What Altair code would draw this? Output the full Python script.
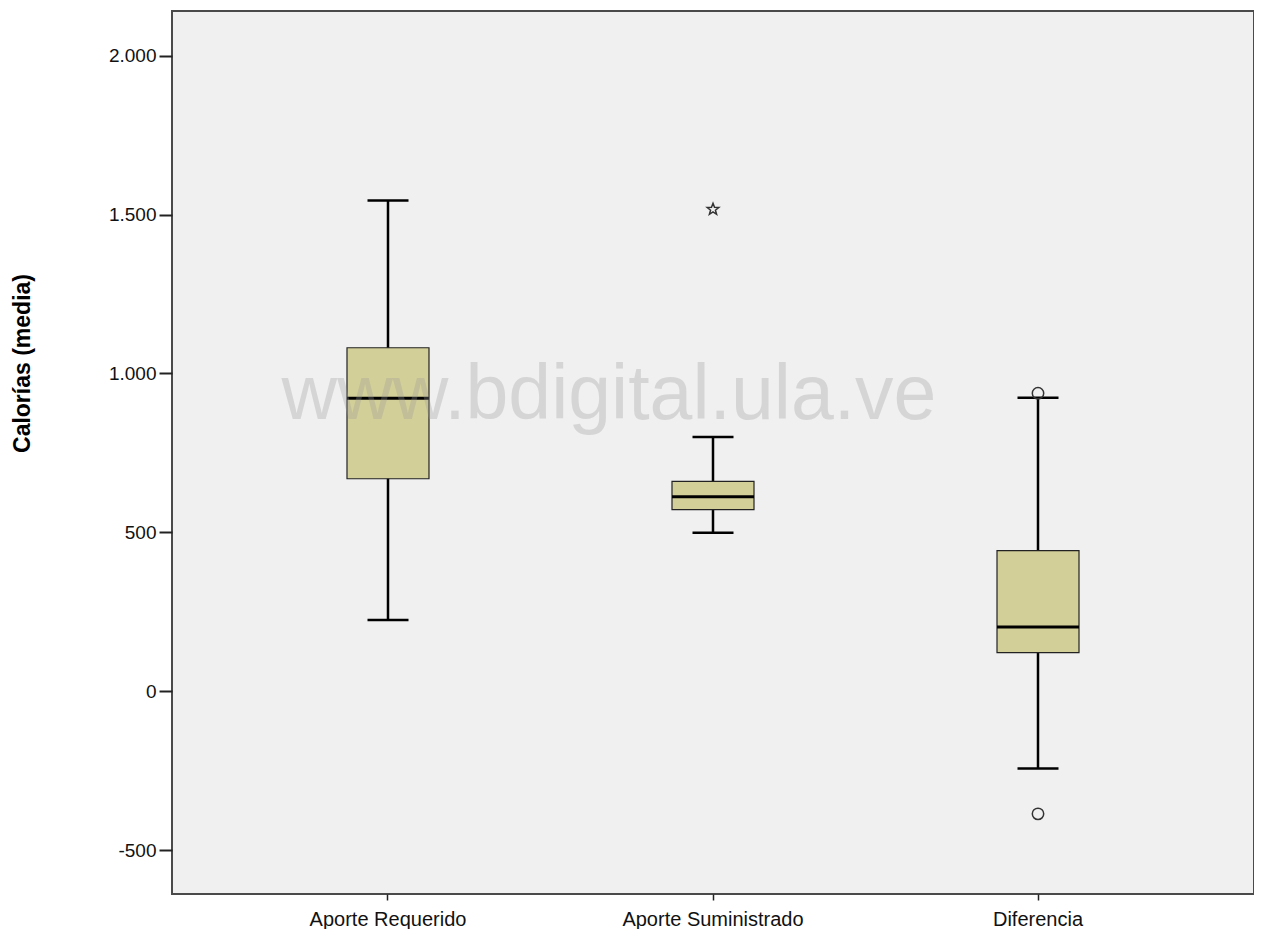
import math
import altair as alt
import pandas as pd

# ---- data ----
categories = ["Aporte Requerido", "Aporte Suministrado", "Diferencia"]
whisker_low = [225, 499, -242]
q1 = [669, 572, 122]
median = [922, 612, 203]
q3 = [1081, 661, 443]
whisker_high = [1544, 800, 924]

outlier_cat = ["Aporte Suministrado", "Diferencia", "Diferencia"]
outlier_val = [1516, 938, -385]
outlier_kind = ["extremo", "atipico", "atipico"]

y_ticks = [-500, 0, 500, 1000, 1500, 2000]

box_df = pd.DataFrame({
    "cat": categories, "lo": whisker_low, "q1": q1,
    "med": median, "q3": q3, "hi": whisker_high,
})
out_df = pd.DataFrame({"cat": outlier_cat, "val": outlier_val, "kind": outlier_kind})

# star symbol path (unit coordinates)
pts = []
for i in range(10):
    r = 1.0 if i % 2 == 0 else 0.42
    a = -math.pi / 2 + i * math.pi / 5
    pts.append(f"{r*math.cos(a):.3f},{r*math.sin(a):.3f}")
star_path = "M" + " L".join(pts) + " Z"

W, H = 1082, 883

xscale = alt.Scale(domain=categories, paddingInner=0, paddingOuter=0.1646)
yscale = alt.Scale(domain=[-637, 2140], nice=False, zero=False)

x_enc = alt.X("cat:N", scale=xscale, sort=None,
              axis=alt.Axis(title=None, labelAngle=0, tickSize=6, labelPadding=9,
                            labelFontSize=20, labelFont="Liberation Sans", labelLimit=0,
                            labelColor="#111", tickColor="#222", tickWidth=1.5,
                            domain=False))

y_axis = alt.Axis(title="Calorías (media)", values=y_ticks, grid=False,
                  labelExpr="replace(replace(format(datum.value, ','), ',', '.'), '\u2212', '-')",
                  tickSize=13, labelPadding=3, labelFontSize=19,
                  labelFont="Liberation Sans", labelColor="#111",
                  tickColor="#222", tickWidth=2, domain=False,
                  titleFont="Liberation Sans", titleFontSize=23, titleFontWeight="bold",
                  titleColor="#000", titleAngle=270, titleX=-150, titleY=352,
                  titleAlign="center", titleBaseline="middle")

base = alt.Chart(box_df)

whisker = base.mark_rule(color="#000", strokeWidth=2.5, opacity=1).encode(
    x=x_enc,
    y=alt.Y("lo:Q", scale=yscale, axis=y_axis),
    y2="hi:Q",
)
cap_lo = base.mark_tick(color="#000", size=41, thickness=2.5, opacity=1).encode(
    x=x_enc, y=alt.Y("lo:Q", scale=yscale))
cap_hi = base.mark_tick(color="#000", size=41, thickness=2.5, opacity=1).encode(
    x=x_enc, y=alt.Y("hi:Q", scale=yscale))
box = base.mark_bar(size=82, fill="#d3cf98", stroke="#222", strokeWidth=1.2, opacity=1).encode(
    x=x_enc, y=alt.Y("q1:Q", scale=yscale), y2="q3:Q")
med = base.mark_tick(color="#000", size=82, thickness=3, opacity=1).encode(
    x=x_enc, y=alt.Y("med:Q", scale=yscale))

outl = alt.Chart(out_df).mark_point(filled=False, color="#333", strokeWidth=1.5, opacity=1).encode(
    x=x_enc,
    y=alt.Y("val:Q", scale=yscale),
    shape=alt.Shape("kind:N", scale=alt.Scale(domain=["atipico", "extremo"],
                                              range=["circle", star_path]), legend=None),
    size=alt.Size("kind:N", scale=alt.Scale(domain=["atipico", "extremo"],
                                            range=[130, 150]), legend=None),
)

watermark = alt.Chart(pd.DataFrame({"t": ["www.bdigital.ula.ve"]})).mark_text(
    font="Liberation Sans", fontSize=77, color="#999", opacity=0.3,
    align="center", baseline="alphabetic",
).encode(x=alt.value(437), y=alt.value(408), text="t:N")

chart = alt.layer(whisker, cap_lo, cap_hi, box, med, outl, watermark).properties(
    width=W, height=H,
    autosize=alt.AutoSizeParams(type="none"),
    padding={"left": 164, "top": 3, "right": 0, "bottom": 35},
    background="#ffffff",
).configure_view(
    fill="#f0f0f0", stroke="#4a4a4a", strokeWidth=2,
)

chart.save("out.html", embed_options={"renderer": "svg", "actions": False})
